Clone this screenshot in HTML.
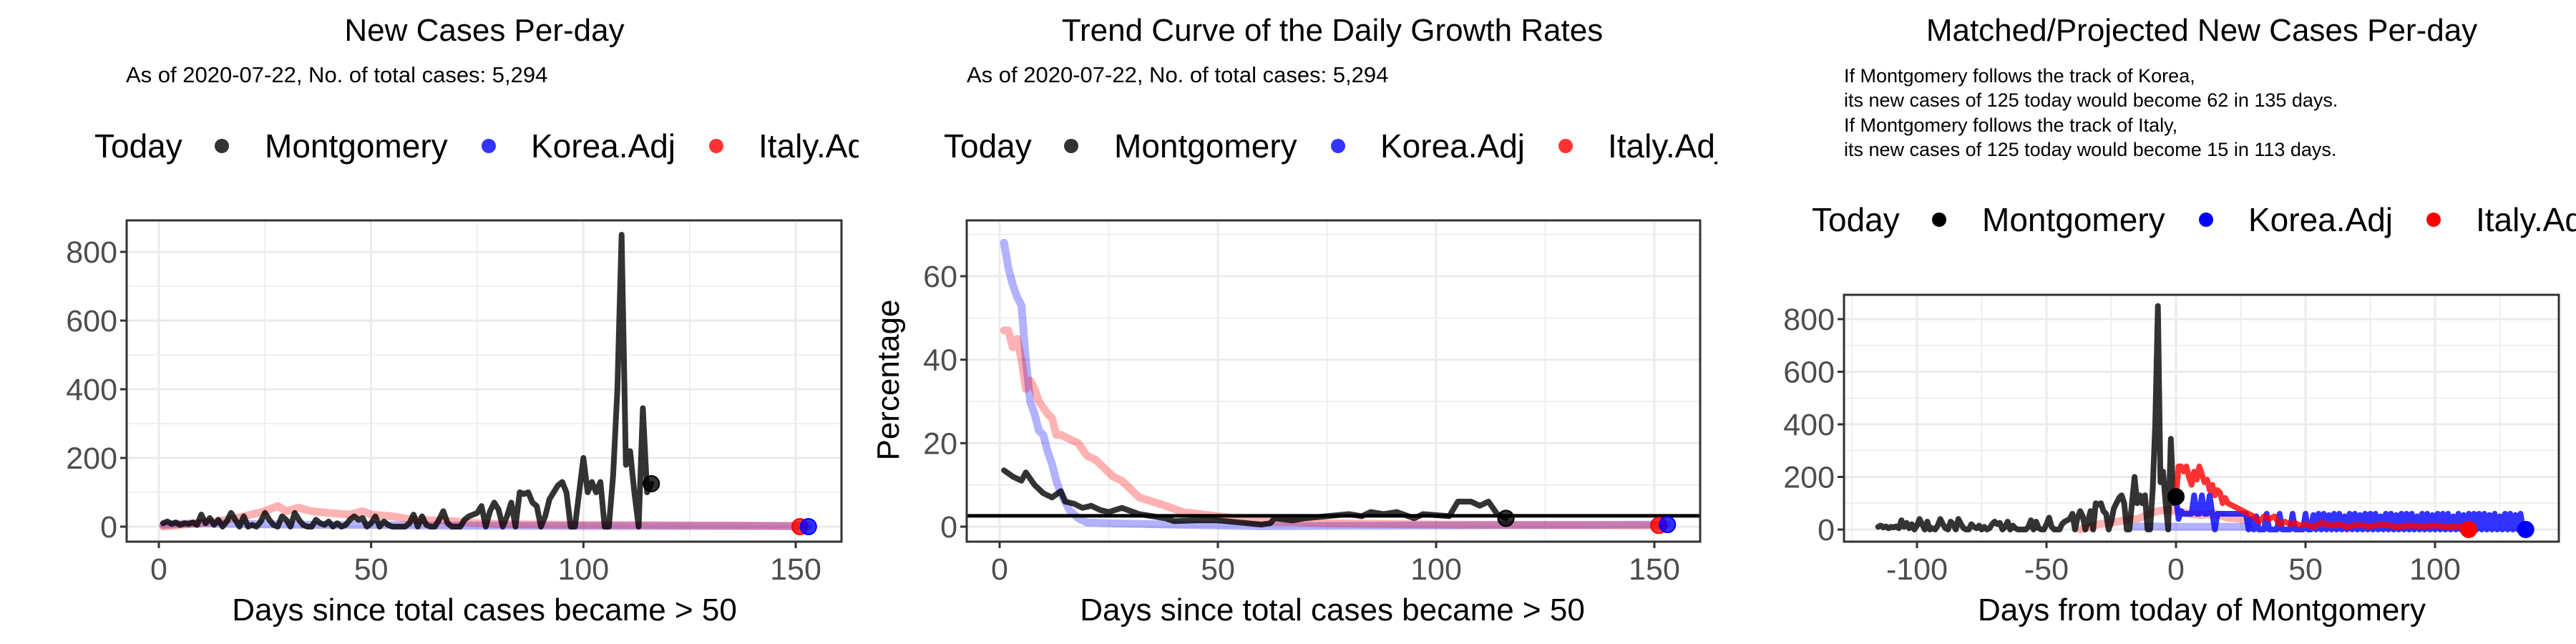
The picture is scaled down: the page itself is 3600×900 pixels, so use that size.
<!DOCTYPE html>
<html><head><meta charset="utf-8">
<style>
html,body{margin:0;padding:0;background:#fff;}
svg{display:block;font-family:"Liberation Sans",Arial,sans-serif;}
</style></head>
<body>
<svg id="chart" width="3600" height="900" viewBox="0 0 3600 900" xmlns="http://www.w3.org/2000/svg"></svg>
<script>
// ---------- data ----------
const montCases = [10,15,8,12,5,10,8,12,5,35, 10,25,5,20,0,15,40,20,0,30, 0,5,0,15,40,20,5,0,30,20, 0,40,20,5,0,0,20,10,5,15, 0,10,0,5,20,30,20,25,0,10, 30,0,15,5,0,0,0,0,10,35, 0,30,5,0,0,20,45,10,0,0, 0,20,30,35,40,60,0,45,70,50, 0,30,70,0,100,95,100,70,60,0, 30,80,100,120,130,100,0,0,100,200, 100,130,100,130,0,0,150,400,850,180, 220,100,0,345,100,125];
const p1KoreaDays = [1,5,10,15,20,30,40,50,60,70,80,100,120,140,153];
const p1KoreaVals = [5,8,10,9,8,6,5,5,4,3,3,2,2,2,1];
const p1ItalyDays = [1,5,10,15,20,25,28,30,33,36,40,45,48,50,55,60,65,70,75,80,90,100,120,151];
const p1ItalyVals = [0,5,10,18,30,45,60,45,55,45,40,35,45,35,30,20,18,15,10,8,6,5,4,2];

const p2MontDays = [1,3,5,6,8,10,12,14,15,17,19,21,23,25,28,32,35,38,40,45,50,55,60,62,63,67,70,75,80,83,85,88,91,95,97,103,105,108,110,112,114,116];
const p2MontVals = [13.5,12,11,13,10,8,7,8.5,6,5.5,4.5,5,4,3.5,4.5,3,2.5,2,1.3,1.5,1.5,1,0.5,0.8,2,1.5,2,2.5,3,2.5,3.5,3,3.5,2,3,2.5,6,6,5,6,3,2];
const p2KoreaDays = [1,2,3,4,5,6,7,8,9,10,11,12,13,14,15,16,17,18,20,25,30,40,50,60,80,100,130,153];
const p2KoreaVals = [68,62,58,55,53,40,30,27,23,22,18,15,11,8,6,4,3,2,1,0.8,0.7,0.5,0.3,0.1,0.2,0.3,0.4,0.5];
const p2ItalyDays = [1,2,3,4,5,6,7,8,9,11,12,13,14,16,18,20,22,24,26,28,30,32,35,38,42,46,50,60,75,100,151];
const p2ItalyVals = [47,47,43,45,40,33,35,33,30,27,26,22,22,21,20,17,16,14,12,11,9,7,6,5,3.5,3,2.5,1.3,0.8,0.5,0.3];
const p2RefLine = 2.6;

const p3ItalyDays = [0,1,2,3,4,5,6,7,8,9,10,11,12,13,14,15,16,17,18,19,20,22,24,26,28,30,32,34,36,38,40,42,44,46,48,50,53,56,60,63,66,70,75,80,85,90,95,100,105,110,113];
const p3ItalyVals = [125,240,240,220,240,200,170,220,190,240,210,180,190,150,170,130,150,140,100,120,100,90,80,70,60,50,30,50,40,50,20,30,20,25,15,20,10,25,15,20,10,18,12,20,10,15,12,15,10,12,0];
const p3KoreaVals = [125,40,70,60,60,60,60,130,60,60,130,60,60,130,60,0,
 60,60,60,60,60,60,60,60,60,60,60,60,0,
 40,0,50,0,0,0,60,0,0,0,0,60,0,0,0,0,60,0,0,0,0,60,0,0,55,0,60,
 0,60,0,55,0,60,0,60,0,50,0,60,0,60,0,55,0,60,0,60,
 0,60,0,50,0,60,0,60,0,55,0,60,0,60,0,60,0,50,0,60,
 0,60,0,55,0,60,0,60,0,60,0,50,0,60,0,55,0,60,0,60,
 0,60,0,60,0,55,0,60,0,50,0,60,0,60,0,55,0,60,0,0];
const p3KoreaFaintDays = [-16,-10,-5,0,10,20,28];
const p3KoreaFaintVals = [10,12,10,10,10,10,10];
const p3ItalyFaintDays = [-37,-33,-30,-25,-20,-15,-10,-7,-3,0,5,10,15,20,25,28];
const p3ItalyFaintVals = [0,10,20,25,35,40,60,70,75,70,60,55,60,45,40,35];

const p1XTicks = [0,50,100,150];
const p1YTicks = [0,200,400,600,800];
const p2YTicks = [0,20,40,60];
const p3XTicks = [-100,-50,0,50,100];
const p3YTicks = [0,200,400,600,800];

// ---------- helpers ----------
const NS = "http://www.w3.org/2000/svg";
const svg = document.getElementById('chart');
function mk(tag, attrs, parent){
  const e = document.createElementNS(NS, tag);
  for (const k in attrs) e.setAttribute(k, attrs[k]);
  (parent||svg).appendChild(e);
  return e;
}
function txt(s, x, y, size, anchor, fill, parent){
  const t = mk('text', {x:x, y:y, 'font-size':size, 'text-anchor':anchor||'start', fill:fill||'#000'}, parent);
  t.textContent = s;
  return t;
}
function scale(d0, d1, r0, r1){ return v => r0 + (v-d0)*(r1-r0)/(d1-d0); }

function panel(cfg){
  const g = mk('g', {});
  
  
  const L=cfg.left,R=cfg.right,T=cfg.top,B=cfg.bottom;
  const cid = cfg.name+'-clip';
  const cp = mk('clipPath', {id:cid}, g);
  mk('rect', {x:L, y:T, width:R-L, height:B-T}, cp);
  const grid = mk('g', {}, g);
  
  
  cfg.xMinor.forEach(v=>{ const x=cfg.sx(v); if(x>L&&x<R) mk('line',{x1:x,x2:x,y1:T,y2:B,stroke:'#ebebeb','stroke-width':1.5},grid); });
  cfg.yMinor.forEach(v=>{ const y=cfg.sy(v); if(y>T&&y<B) mk('line',{x1:L,x2:R,y1:y,y2:y,stroke:'#ebebeb','stroke-width':1.5},grid); });
  cfg.xTicks.forEach(v=>{ const x=cfg.sx(v); mk('line',{x1:x,x2:x,y1:T,y2:B,stroke:'#ebebeb','stroke-width':3},grid); });
  cfg.yTicks.forEach(v=>{ const y=cfg.sy(v); mk('line',{x1:L,x2:R,y1:y,y2:y,stroke:'#ebebeb','stroke-width':3},grid); });
  const plot = mk('g', {'clip-path':'url(#'+cid+')'}, g);
  
  
  const xa = mk('g', {}, g);
  
  
  cfg.xTicks.forEach(v=>{ const x=cfg.sx(v);
    mk('line',{x1:x,x2:x,y1:B,y2:B+9,stroke:'#333','stroke-width':3},xa);
    const t = txt(String(v), x, 810, 43, 'middle', '#4d4d4d', xa);
    
    
  });
  const ya = mk('g', {}, g);
  
  
  cfg.yTicks.forEach(v=>{ const y=cfg.sy(v);
    mk('line',{x1:L-9,x2:L,y1:y,y2:y,stroke:'#333','stroke-width':3},ya);
    const t = txt(String(v), L-13, y+15, 43, 'end', '#4d4d4d', ya);
    
    
  });
  mk('rect',{x:L,y:T,width:R-L,height:B-T,fill:'none',stroke:'#333','stroke-width':3},g);
  cfg.plot = plot;
  return cfg;
}
function line(p, xs, ys, color, width, opacity, name){
  const pts = xs.map((x,i)=>p.sx(x).toFixed(1)+','+p.sy(ys[i]).toFixed(1)).join(' ');
  const pl = mk('polyline', {points:pts, fill:'none', stroke:color, 'stroke-width':width, 'stroke-opacity':opacity, 'stroke-linejoin':'round', 'stroke-linecap':'round'}, p.plot);
  
  
}
function dot(p, x, y, color, opacity, name){
  const c = mk('circle', {cx:p.sx(x), cy:p.sy(y), r:11, fill:color, 'fill-opacity':opacity, stroke:color, 'stroke-width':2}, p.plot);
  
  
}
function legend(ox, y, opaque){
  const g = mk('g', {});
  
  
  txt('Today', ox+132, y+16, 46, 'start', '#000', g);
  const items = [['Montgomery', '#000', 310, 370], ['Korea.Adj','#00f',683,742], ['Italy.Adj','#f00',1001,1060]];
  items.forEach(it=>{
    const e = mk('g', {}, g);
    
    
    mk('circle', {cx:ox+it[2], cy:y, r:10, fill:it[1], 'fill-opacity':opaque?1:0.8}, e);
    txt(it[0], ox+it[3], y+16, 46, 'start', '#000', e);
  });
  return g;
}
function clipPanelWidth(ox){
  const cp = mk('clipPath', {id:'pc'+ox});
  mk('rect', {x:ox, y:0, width:1200, height:900}, cp);
  return 'url(#pc'+ox+')';
}

// ---------- panel 1 ----------
const days = montCases.map((_,i)=>i+1);
const p1 = panel({name:'new-cases-panel', left:177, right:1176, top:308, bottom:757,
  sx: scale(0,150,222,1112), sy: scale(0,800,736,352),
  xTicks:p1XTicks, yTicks:p1YTicks, xMinor:[25,75,125], yMinor:[100,300,500,700]});
line(p1, p1KoreaDays, p1KoreaVals, '#00f', 11, 0.3, 'korea-line');
line(p1, p1ItalyDays, p1ItalyVals, '#f00', 11, 0.3, 'italy-line');
line(p1, days, montCases, '#000', 8, 0.8, 'montgomery-line');
dot(p1, 116, 125, '#000', 0.8, 'montgomery-today-dot');
dot(p1, 151, 0, '#f00', 0.8, 'italy-today-dot');
dot(p1, 153, 0, '#00f', 0.8, 'korea-today-dot');
let t;
t = txt('New Cases Per-day', 677, 57, 44, 'middle');  
t = txt('As of 2020-07-22, No. of total cases: 5,294', 176, 115, 31);  
legend(0, 204, false).setAttribute('clip-path', clipPanelWidth(0));
t = txt('Days since total cases became > 50', 677, 867, 44, 'middle');  

// ---------- panel 2 ----------
const p2 = panel({name:'growth-rate-panel', left:1351, right:2376, top:308, bottom:757,
  sx: scale(0,150,1397,2312), sy: scale(0,60,736,386),
  xTicks:p1XTicks, yTicks:p2YTicks, xMinor:[25,75,125], yMinor:[10,30,50,70]});
line(p2, p2KoreaDays, p2KoreaVals, '#00f', 11, 0.3, 'korea-line');
line(p2, p2ItalyDays, p2ItalyVals, '#f00', 11, 0.3, 'italy-line');
line(p2, p2MontDays, p2MontVals, '#000', 8, 0.8, 'montgomery-line');
const rl = mk('line', {x1:1351, x2:2376, y1:p2.sy(p2RefLine), y2:p2.sy(p2RefLine), stroke:'#000', 'stroke-width':5}, p2.plot);


dot(p2, 116, 2, '#000', 0.8, 'montgomery-today-dot');
dot(p2, 151, 0.3, '#f00', 0.8, 'italy-today-dot');
dot(p2, 153, 0.5, '#00f', 0.8, 'korea-today-dot');
t = txt('Trend Curve of the Daily Growth Rates', 1862, 57, 44, 'middle');  
t = txt('As of 2020-07-22, No. of total cases: 5,294', 1351, 115, 31);  
legend(1187, 204, false).setAttribute('clip-path', clipPanelWidth(1200));
t = txt('Days since total cases became > 50', 1862, 867, 44, 'middle');  
t = txt('Percentage', 0, 0, 44, 'middle'); t.setAttribute('transform','translate(1256,531) rotate(-90)');  

// ---------- panel 3 ----------
const p3 = panel({name:'projected-panel', left:2577, right:3576, top:412, bottom:757,
  sx: scale(-100,100,2679,3403), sy: scale(0,800,740,446),
  xTicks:p3XTicks, yTicks:p3YTicks, xMinor:[-125,-75,-25,25,75,125], yMinor:[100,300,500,700]});
const relDays = days.map(d=>d-116);
const koreaDays = p3KoreaVals.map((_,i)=>i);
line(p3, p3KoreaFaintDays, p3KoreaFaintVals, '#00f', 11, 0.3, 'korea-matched-line');
line(p3, p3ItalyFaintDays, p3ItalyFaintVals, '#f00', 11, 0.3, 'italy-matched-line');
line(p3, relDays, montCases, '#000', 8, 0.8, 'montgomery-line');
line(p3, koreaDays, p3KoreaVals, '#00f', 8, 0.8, 'korea-projected-line');
line(p3, p3ItalyDays, p3ItalyVals, '#f00', 8, 0.8, 'italy-projected-line');
dot(p3, 0, 125, '#000', 1, 'montgomery-today-dot');
dot(p3, 113, 0, '#f00', 1, 'italy-end-dot');
dot(p3, 135, 0, '#00f', 1, 'korea-end-dot');
t = txt('Matched/Projected New Cases Per-day', 3077, 57, 44, 'middle');  
const notes = ['If Montgomery follows the track of Korea,','its new cases of 125 today would become 62 in 135 days.','If Montgomery follows the track of Italy,','its new cases of 125 today would become 15 in 113 days.'];
[115,149,184,218].forEach((y,i)=>{ const n = txt(notes[i], 2577, y, 27);
  
   });
legend(2400, 307, true).setAttribute('clip-path', clipPanelWidth(2400));
t = txt('Days from today of Montgomery', 3077, 867, 44, 'middle');  
</script>
</body></html>
